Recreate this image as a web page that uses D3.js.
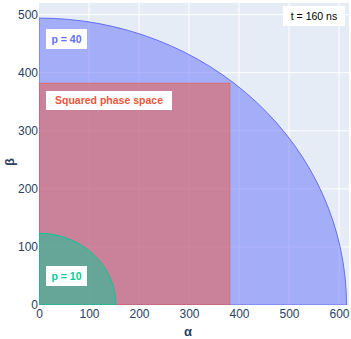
<!DOCTYPE html>
<html><head><meta charset="utf-8">
<script src="https://cdn.jsdelivr.net/npm/d3@7"></script>
<style>body{margin:0;background:#fff}svg{display:block;font-family:Arial,"Liberation Sans",sans-serif}</style>
</head><body><svg id="c" width="351" height="339"></svg>
<script>
const xTicks=[0,100,200,300,400,500,600];
const yTicks=[0,100,200,300,400,500];
const ellipseNames=["p = 40","p = 10"];
const ellipseA=[615,154];
const ellipseB=[494,123.5];
const squareSide=[382];
const squareName=["Squared phase space"];
const timeLabel=["t = 160 ns"];
const xDomain=[0,620], yDomain=[0,520];

const W=351,H=339, m={l:39,r:2,t:3,b:34};
const svg=d3.select("#c");
const x=d3.scaleLinear().domain(xDomain).range([m.l,W-m.r]);
const y=d3.scaleLinear().domain(yDomain).range([H-m.b,m.t]);
const defs=svg.append("defs");
defs.append("clipPath").attr("id","clip").append("rect").attr("x",m.l).attr("y",m.t).attr("width",W-m.r-m.l).attr("height",H-m.b-m.t);
svg.append("rect").attr("x",m.l).attr("y",m.t).attr("width",W-m.r-m.l).attr("height",H-m.b-m.t).attr("fill","#E5ECF6");
const g=svg.append("g");
xTicks.filter(d=>d>0).forEach(d=>g.append("line").attr("x1",x(d)).attr("x2",x(d)).attr("y1",m.t).attr("y2",H-m.b).attr("stroke","#fff").attr("stroke-width",1));
yTicks.filter(d=>d>0).forEach(d=>g.append("line").attr("y1",y(d)).attr("y2",y(d)).attr("x1",m.l).attr("x2",W-m.r).attr("stroke","#fff").attr("stroke-width",1));

const plot=svg.append("g").attr("clip-path","url(#clip)");
function quarter(a,b){
  const cx=x(0),cy=y(0),rx=x(a)-x(0),ry=y(0)-y(b);
  return `M${cx},${cy} L${cx+rx},${cy} A${rx},${ry} 0 0 0 ${cx},${cy-ry} Z`;
}
plot.append("path").attr("d",quarter(ellipseA[0],ellipseB[0])).attr("fill","#636efa").attr("fill-opacity",0.5).attr("stroke","#636efa").attr("stroke-width",1);
plot.append("rect").attr("x",x(0)).attr("y",y(squareSide[0])).attr("width",x(squareSide[0])-x(0)).attr("height",y(0)-y(squareSide[0]))
  .attr("fill","#EF553B").attr("fill-opacity",0.5).attr("stroke","#EF553B").attr("stroke-opacity",0.5).attr("stroke-width",1);
plot.append("path").attr("d",quarter(ellipseA[1],ellipseB[1])).attr("fill","#00CC96").attr("fill-opacity",0.5).attr("stroke","#00CC96").attr("stroke-width",1);

const ax=svg.append("g").attr("transform",`translate(0,${H-m.b})`).call(d3.axisBottom(x).tickValues(xTicks).tickSize(0).tickPadding(4));
ax.select(".domain").remove();
ax.selectAll("text").attr("font-size",12).attr("fill","#2a3f5f").attr("font-family","Arial,'Liberation Sans',sans-serif");
const ay=svg.append("g").attr("transform",`translate(${m.l},0)`).call(d3.axisLeft(y).tickValues(yTicks).tickSize(0).tickPadding(1));
ay.select(".domain").remove();
ay.selectAll("text").attr("font-size",12).attr("fill","#2a3f5f").attr("font-family","Arial,'Liberation Sans',sans-serif");

svg.append("text").attr("x",188).attr("y",336).attr("text-anchor","middle").attr("font-size",13).attr("font-weight","bold").attr("fill","#2a3f5f").text("α");
svg.append("text").attr("transform","translate(14,162) rotate(-90)").attr("text-anchor","middle").attr("font-size",13).attr("font-weight","bold").attr("fill","#2a3f5f").text("β");

function label(cx,cy,w,h,txt,color,bold){
  svg.append("rect").attr("x",cx-w/2).attr("y",cy-h/2).attr("width",w).attr("height",h).attr("fill","#fff");
  svg.append("text").attr("x",cx).attr("y",cy).attr("dy","0.36em").attr("text-anchor","middle").attr("font-size",10.5)
    .attr("font-weight",bold?"bold":"normal").attr("fill",color).text(txt);
}
label(66.5,39,41,20,ellipseNames[0],"#636efa",true);
label(109,100.5,126,19,squareName[0],"#EF553B",true);
label(66.5,276,41,20,ellipseNames[1],"#00CC96",true);
label(314,16,62,20,timeLabel[0],"#000",false);
</script></body></html>
